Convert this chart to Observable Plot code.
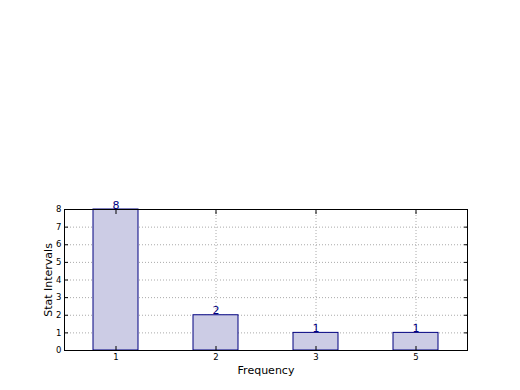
<!DOCTYPE html>
<html><head><meta charset="utf-8">
<script src="https://cdn.jsdelivr.net/npm/d3@7"></script>
<script src="https://cdn.jsdelivr.net/npm/@observablehq/plot@0.6"></script>
<style>body{margin:0;background:#fff;} svg{font-family:"DejaVu Sans",sans-serif;}</style>
</head><body><div id="chart"></div>
<script>
const categories = ["1", "2", "3", "5"];
const values = [8, 2, 1, 1];
const yTicks = [0, 1, 2, 3, 4, 5, 6, 7, 8];
const data = categories.map((c, i) => ({cat: c, val: values[i]}));

const chart = Plot.plot({
  width: 520, height: 390,
  marginLeft: 64, marginRight: 53, marginTop: 209, marginBottom: 40,
  style: {fontFamily: "DejaVu Sans, sans-serif", background: "white"},
  x: {domain: categories, paddingInner: 0.55, paddingOuter: 0.275, label: null},
  y: {domain: [0, 8], label: null},
  marks: [
    Plot.gridY(yTicks, {stroke: "#aaa", strokeOpacity: 1, strokeDasharray: "1,2"}),
    Plot.gridX(categories, {stroke: "#aaa", strokeOpacity: 1, strokeDasharray: "1,2"}),
    Plot.barY(data, {x: "cat", y: "val", fill: "#ccccE5", stroke: "#000080", strokeWidth: 1}),
    Plot.text(data, {x: "cat", y: "val", text: d => String(d.val), fill: "#000080", fontSize: 11, lineAnchor: "bottom", dy: -1}),
    Plot.axisY(yTicks, {anchor: "left", tickSize: -4, tickPadding: 7, fontSize: 8.5, label: null, stroke: "black"}),
    Plot.axisY(yTicks, {anchor: "right", tickSize: -4, tickFormat: () => "", label: null}),
    Plot.axisX(categories, {anchor: "bottom", tickSize: -4, tickPadding: 7, fontSize: 8.5, label: null}),
    Plot.axisX(categories, {anchor: "top", tickSize: -4, tickFormat: () => "", label: null}),
    Plot.frame({stroke: "black"}),
    Plot.text(["Frequency"], {frameAnchor: "bottom", dy: 20, fontSize: 11, fill: "black", lineAnchor: "middle"}),
    Plot.text(["Stat Intervals"], {frameAnchor: "left", dx: -16, rotate: -90, fontSize: 11, fill: "black", textAnchor: "middle"})
  ]
});
document.getElementById("chart").appendChild(chart);
</script></body></html>
